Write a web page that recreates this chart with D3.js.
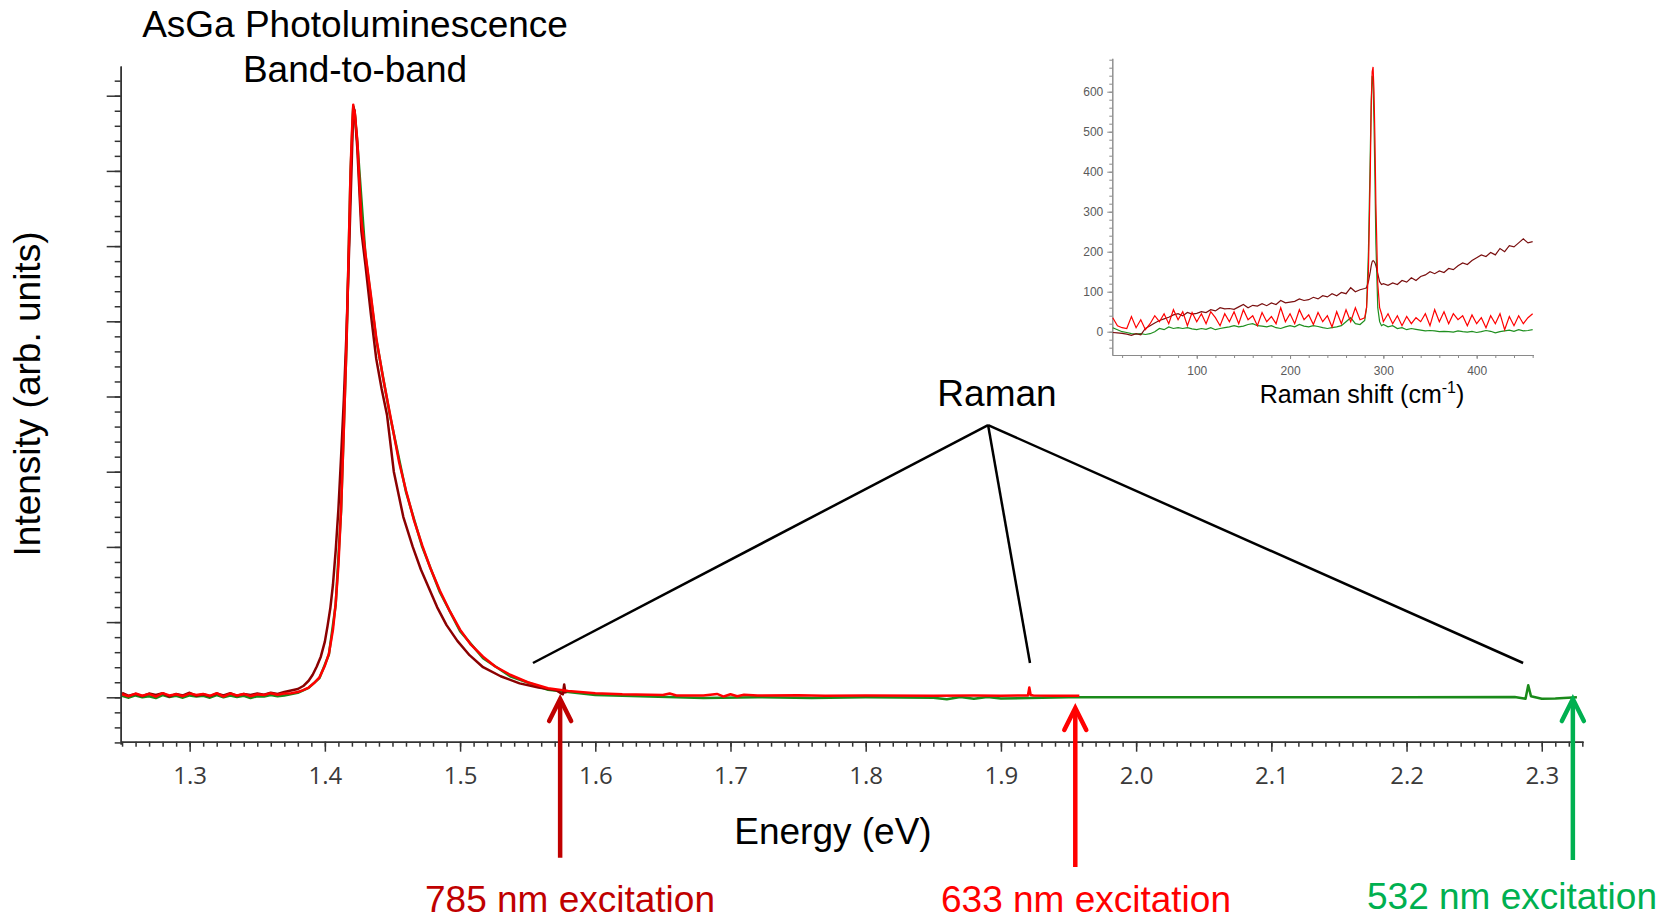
<!DOCTYPE html>
<html>
<head>
<meta charset="utf-8">
<script src="https://cdn.jsdelivr.net/npm/d3@7"></script>
<style>
  body { margin: 0; background: #fff; }
  text { font-family: "Liberation Sans", Arial, sans-serif; }
</style>
</head>
<body>
<main></main>
<script>
// ---- main spectra (energy in eV, intensity in counts) ----
const e785 = [1.250,1.255,1.260,1.265,1.270,1.275,1.280,1.285,1.290,1.295,1.300,1.305,1.310,1.315,1.320,1.325,1.330,1.335,1.340,1.345,1.350,1.355,1.360,1.365,1.370,1.375,1.380,1.384,1.388,1.391,1.394,1.397,1.400,1.402,1.404,1.406,1.408,1.410,1.412,1.414,1.416,1.418,1.420,1.421,1.422,1.424,1.427,1.430,1.434,1.438,1.442,1.446,1.451,1.458,1.465,1.471,1.477,1.483,1.490,1.498,1.507,1.517,1.530,1.544,1.558,1.571,1.574,1.576,1.577,1.578];
const i785 = [60,20,45,15,50,30,55,10,45,25,60,20,40,15,50,25,55,20,45,30,50,35,60,45,70,90,110,150,220,300,410,540,740,950,1180,1500,1950,2500,3200,3950,4850,6000,7200,7850,7800,7300,6200,5750,5100,4500,4100,3750,3000,2400,2000,1700,1450,1200,960,750,560,400,280,185,130,95,60,40,170,50];

const e633 = [1.250,1.255,1.260,1.265,1.270,1.275,1.280,1.285,1.290,1.295,1.300,1.305,1.310,1.315,1.320,1.325,1.330,1.335,1.340,1.345,1.350,1.355,1.360,1.365,1.370,1.375,1.380,1.384,1.388,1.392,1.396,1.400,1.403,1.406,1.408,1.410,1.412,1.414,1.416,1.4175,1.419,1.420,1.421,1.4215,1.422,1.424,1.427,1.430,1.434,1.438,1.443,1.448,1.455,1.460,1.466,1.472,1.478,1.485,1.492,1.500,1.508,1.517,1.526,1.537,1.550,1.565,1.580,1.600,1.620,1.650,1.655,1.660,1.680,1.690,1.695,1.700,1.705,1.710,1.720,1.750,1.770,1.800,1.850,1.880,1.900,1.918,1.920,1.921,1.922,1.924,1.940,1.958];
const i633 = [40,15,50,20,45,10,55,25,40,15,50,30,45,20,55,10,50,25,45,15,40,30,55,35,50,55,70,95,130,190,265,420,580,900,1250,1750,2500,3550,4700,5850,7000,7500,7880,7700,7800,7400,6350,5900,5350,4780,4250,3780,3120,2750,2350,2020,1720,1420,1160,900,700,540,410,300,200,120,85,55,40,30,50,25,25,45,10,40,15,35,25,28,22,25,22,25,22,24,24,130,30,24,22,22];

const e532 = [1.250,1.255,1.260,1.265,1.270,1.275,1.280,1.285,1.290,1.295,1.300,1.305,1.310,1.315,1.320,1.325,1.330,1.335,1.340,1.345,1.350,1.355,1.360,1.365,1.370,1.380,1.388,1.396,1.403,1.408,1.412,1.416,1.419,1.421,1.422,1.424,1.430,1.438,1.448,1.460,1.472,1.485,1.500,1.517,1.537,1.565,1.600,1.640,1.680,1.720,1.760,1.800,1.850,1.860,1.870,1.880,1.890,1.900,1.950,2.000,2.100,2.200,2.280,2.288,2.290,2.292,2.300,2.310,2.326];
const i532 = [20,-5,25,0,15,-10,30,5,20,-5,25,10,20,-5,30,0,25,5,20,-10,15,10,30,15,25,60,125,255,570,1230,2480,4680,6980,7860,7780,7380,5880,4760,3760,2730,2000,1400,880,520,280,100,30,10,-10,0,-8,0,-5,-25,5,-20,5,-15,0,0,0,0,5,-20,160,15,-20,-15,0];

const xTicks = [1.3, 1.4, 1.5, 1.6, 1.7, 1.8, 1.9, 2.0, 2.1, 2.2, 2.3];
const yTicks = [0, 1000, 2000, 3000, 4000, 5000, 6000, 7000, 8000];

// ---- inset: Raman shift (cm-1) ----
const shift = [10,15,20,25,30,35,40,45,50,55,60,65,70,75,80,85,90,95,100,105,110,115,120,125,130,135,140,145,150,155,160,165,170,175,180,185,190,195,200,205,210,215,220,225,230,235,240,245,250,255,260,265,270,275,
  280,282,284,286,287,288,289,290,291,292,294,296,298,300,
  305,310,315,320,325,330,335,340,345,350,355,360,365,370,375,380,385,390,395,400,405,410,415,420,425,430,435,440,445,450,455,460];
const r785 = [-2,-3,-4,-6,-9,-5,-8,8,15,22,28,32,36,42,45,40,48,44,46,50,48,55,52,60,57,58,56,62,68,60,66,64,70,65,72,68,78,72,74,76,82,78,80,86,82,90,87,95,90,98,95,110,100,105,
  108,110,125,150,165,175,178,176,172,165,145,125,118,120,
  116,122,118,128,124,135,128,138,142,150,145,152,148,158,155,165,172,168,178,185,192,188,198,192,208,200,215,212,222,232,222,225];
const r633 = [35,15,10,8,38,10,30,5,20,40,25,45,20,55,30,50,15,48,25,45,20,50,35,15,45,25,50,20,55,30,40,15,48,25,38,20,60,25,45,20,55,30,42,18,48,25,40,12,50,20,55,25,60,30,
  35,60,150,400,560,650,662,600,480,320,120,60,45,25,
  45,20,40,15,38,20,35,25,45,15,55,25,50,20,45,30,40,15,42,20,35,10,40,20,45,5,38,15,40,20,35,45];
const r532 = [10,5,0,-2,-5,-6,-5,-7,-5,0,8,5,12,8,10,8,10,7,5,8,6,10,5,8,10,12,15,12,14,18,20,15,14,12,15,10,8,12,15,12,18,14,12,15,13,10,8,10,12,15,25,35,20,18,
  28,60,200,450,580,640,620,520,380,220,60,25,15,18,
  12,15,8,10,5,8,6,4,2,3,2,0,1,0,-1,2,0,-1,1,-2,0,3,1,-3,0,2,4,1,5,2,3,5];
const insetXTicks = [100, 200, 300, 400];
const insetYTicks = [0, 100, 200, 300, 400, 500, 600];

// annotation anchors in data units
const ramanApex = [1.8905, 3620];
const ramanPeaks = [[1.5539, 456], [1.9215, 456], [2.2862, 456]];
const excitation = [
  { label: "785 nm excitation", e: 1.574, tip: -10, base: -2135, color: "#c00000", tx: 570, ty: 912 },
  { label: "633 nm excitation", e: 1.955, tip: -128, base: -2255, color: "#ff0000", tx: 1086, ty: 912 },
  { label: "532 nm excitation", e: 2.323, tip: -10, base: -2162, color: "#00b050", tx: 1512, ty: 909 }
];

const svg = d3.select("main").append("svg")
              .attr("width", 1675).attr("height", 921)
              .style("display", "block");

// ---- main chart ----
const x = d3.scaleLinear().domain([1.249, 2.3305]).range([120.7, 1583]);
const y = d3.scaleLinear().domain([-621, 8395]).range([744, 66]);

const xMinor = d3.range(125, 234).map(d => d / 100);
const yMinor = d3.range(-600, 8400, 200);

const xAxisG = svg.append("g").attr("transform", `translate(0,${y.range()[0] - 2.3})`);
xAxisG.append("g")
      .call(d3.axisBottom(x).tickValues(xMinor).tickSize(5).tickSizeOuter(0).tickFormat(""));
xAxisG.append("g")
      .call(d3.axisBottom(x).tickValues(xTicks).tickSize(10).tickSizeOuter(0).tickPadding(15).tickFormat(d3.format(".1f")));
xAxisG.selectAll("path, line").attr("stroke", "#333").attr("stroke-width", 1.5);
xAxisG.selectAll("text").attr("font-size", 24).attr("fill", "#3a3a3a")
      .style("font-family", "'Open Sans', 'Liberation Sans', sans-serif");

const yAxisG = svg.append("g").attr("transform", `translate(${x.range()[0]},0)`);
yAxisG.append("g")
      .call(d3.axisLeft(y).tickValues(yMinor).tickSize(6).tickSizeOuter(0).tickFormat(""));
yAxisG.append("g")
      .call(d3.axisLeft(y).tickValues(yTicks).tickSize(14).tickSizeOuter(0).tickFormat(""));
yAxisG.selectAll("path, line").attr("stroke", "#333").attr("stroke-width", 1.5);

const line = d3.line().x(d => x(d[0])).y(d => y(d[1]));
const mainSeries = [
  { e: e532, v: i532, color: "#1a8a1a" },
  { e: e785, v: i785, color: "#8b0000" },
  { e: e633, v: i633, color: "#ff0000" }
];
svg.append("g").selectAll("path")
   .data(mainSeries).enter().append("path")
   .attr("d", s => line(s.e.map((e, i) => [e, s.v[i]])))
   .attr("fill", "none")
   .attr("stroke", s => s.color)
   .attr("stroke-width", 2.5)
   .attr("stroke-linejoin", "round");

// Raman leader lines
svg.append("g").selectAll("line")
   .data(ramanPeaks).enter().append("line")
   .attr("x1", x(ramanApex[0])).attr("y1", y(ramanApex[1]))
   .attr("x2", d => x(d[0])).attr("y2", d => y(d[1]))
   .attr("stroke", "#000").attr("stroke-width", 2.5);

// excitation arrows
const arrows = svg.append("g").selectAll("g").data(excitation).enter().append("g");
arrows.append("line")
      .attr("x1", d => x(d.e)).attr("x2", d => x(d.e))
      .attr("y1", d => y(d.base)).attr("y2", d => y(d.tip) + 3)
      .attr("stroke", d => d.color).attr("stroke-width", 4.5);
arrows.append("path")
      .attr("d", d => `M${x(d.e) - 11},${y(d.tip) + 23}L${x(d.e)},${y(d.tip) + 1}L${x(d.e) + 11},${y(d.tip) + 23}`)
      .attr("fill", "none").attr("stroke", d => d.color)
      .attr("stroke-width", 4.5).attr("stroke-linejoin", "miter").attr("stroke-linecap", "round");
arrows.append("text")
      .text(d => d.label)
      .attr("x", d => d.tx).attr("y", d => d.ty)
      .attr("text-anchor", "middle").attr("font-size", 37)
      .attr("fill", d => d.color);

// titles and axis labels
svg.append("text").text("AsGa Photoluminescence")
   .attr("x", 355).attr("y", 37).attr("text-anchor", "middle").attr("font-size", 37);
svg.append("text").text("Band-to-band")
   .attr("x", 355).attr("y", 82).attr("text-anchor", "middle").attr("font-size", 37);
svg.append("text").text("Raman")
   .attr("x", 997).attr("y", 406).attr("text-anchor", "middle").attr("font-size", 37);
svg.append("text").text("Energy (eV)")
   .attr("x", 833).attr("y", 844).attr("text-anchor", "middle").attr("font-size", 37);
svg.append("text").text("Intensity (arb. units)")
   .attr("transform", "translate(40,394) rotate(-90)")
   .attr("text-anchor", "middle").attr("font-size", 37);

// ---- inset ----
const ix = d3.scaleLinear().domain([9.5, 460.7]).range([1112.3, 1533.3]);
const iy = d3.scaleLinear().domain([-58.25, 683.5]).range([355, 58.3]);

const ixAxis = svg.append("g").attr("transform", `translate(0,${iy.range()[0]})`);
ixAxis.append("g").call(d3.axisBottom(ix).tickValues(d3.range(20, 461, 20)).tickSize(3).tickSizeOuter(0).tickFormat(""));
ixAxis.append("g").call(d3.axisBottom(ix).tickValues(insetXTicks).tickSize(4).tickSizeOuter(0).tickPadding(7));
const iyAxis = svg.append("g").attr("transform", `translate(${ix.range()[0]},0)`);
iyAxis.append("g").call(d3.axisLeft(iy).tickValues(d3.range(-40, 681, 20)).tickSize(3).tickSizeOuter(0).tickFormat(""));
iyAxis.append("g").call(d3.axisLeft(iy).tickValues(insetYTicks).tickSize(5).tickSizeOuter(0).tickPadding(4));
[ixAxis, iyAxis].forEach(g => {
  g.selectAll("path, line").attr("stroke", "#8a8a8a").attr("stroke-width", 1);
  g.selectAll("text").attr("font-size", 12).attr("fill", "#5a5a5a");
});

const iline = d3.line().x(d => ix(d[0])).y(d => iy(d[1]));
const insetSeries = [
  { v: r532, color: "#1f8f1f" },
  { v: r785, color: "#7a0f0f" },
  { v: r633, color: "#ff0000" }
];
svg.append("g").selectAll("path")
   .data(insetSeries).enter().append("path")
   .attr("d", s => iline(shift.map((k, i) => [k, s.v[i]])))
   .attr("fill", "none")
   .attr("stroke", s => s.color)
   .attr("stroke-width", 1.2);

const ilabel = svg.append("text")
   .attr("x", 1362).attr("y", 403).attr("text-anchor", "middle").attr("font-size", 25);
ilabel.append("tspan").text("Raman shift (cm");
ilabel.append("tspan").text("-1").attr("font-size", 16).attr("dy", -10);
ilabel.append("tspan").text(")").attr("dy", 10);
</script>
</body>
</html>
